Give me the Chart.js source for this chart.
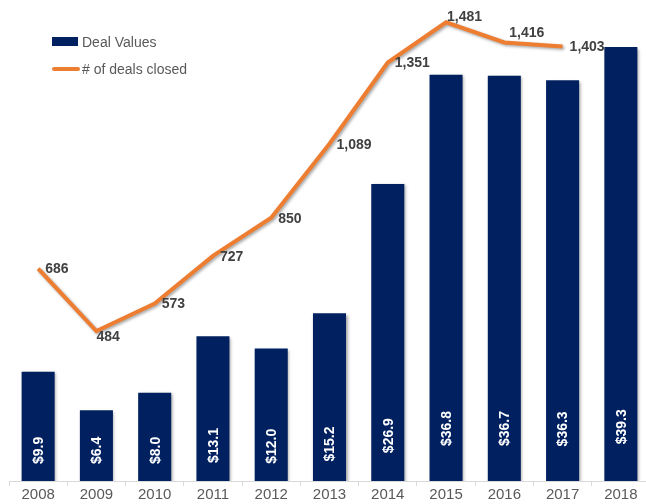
<!DOCTYPE html>
<html>
<head>
<meta charset="utf-8">
<script src="https://cdn.jsdelivr.net/npm/chart.js@4.4.1/dist/chart.umd.min.js"></script>
<style>
  html, body { margin: 0; padding: 0; background: #ffffff; overflow: hidden; }
  #wrap { position: relative; width: 650px; height: 504px; }
  #legend { position: absolute; left: 52px; top: 28px; font-family: "Liberation Sans", Arial, sans-serif; font-size: 14px; color: #595959; }
  .row { display: flex; align-items: center; height: 27px; }
  .box { width: 26px; height: 9px; background: #002060; margin-right: 4px; }
  .ln { width: 28px; height: 4px; background: #ED7D31; margin-right: 2px; border-radius: 2px; }
</style>
</head>
<body>
<div id="wrap">
  <canvas id="c" width="650" height="504"></canvas>
  <div id="legend">
    <div class="row"><div class="box"></div><span>Deal Values</span></div>
    <div class="row"><div class="ln"></div><span># of deals closed</span></div>
  </div>
</div>
<script>
const years = ["2008","2009","2010","2011","2012","2013","2014","2015","2016","2017","2018"];
const dealValues = [9.9, 6.4, 8.0, 13.1, 12.0, 15.2, 26.9, 36.8, 36.7, 36.3, 39.3];
const dealsClosed = [686, 484, 573, 727, 850, 1089, 1351, 1481, 1416, 1403];

// label placement tweaks (style only)
const lineLabelAdjust = { 1: [0, 6], 7: [1, -5], 8: [5, -9] };

const shadowPlugin = {
  id: 'shadows',
  beforeDatasetDraw(chart, args) {
    const ctx = chart.ctx;
    ctx.save();
    ctx.shadowColor = 'rgba(0,0,0,0.35)';
    ctx.shadowBlur = 3;
    ctx.shadowOffsetX = 1.5;
    ctx.shadowOffsetY = 1.5;
  },
  afterDatasetDraw(chart) { chart.ctx.restore(); }
};

const labelPlugin = {
  id: 'labels',
  afterDatasetsDraw(chart) {
    const ctx = chart.ctx;
    const yAxis = chart.scales.y;
    const base = yAxis.getPixelForValue(0);
    // bar labels
    const barMeta = chart.getDatasetMeta(0);
    ctx.save();
    ctx.fillStyle = '#ffffff';
    ctx.font = 'bold 14px "Liberation Sans", Arial, sans-serif';
    ctx.textAlign = 'left';
    ctx.textBaseline = 'middle';
    barMeta.data.forEach((el, i) => {
      const h = base - el.y;
      const off = 17 + Math.max(0, h - 130) * 0.065;
      ctx.save();
      ctx.translate(el.x, base - off);
      ctx.rotate(-Math.PI / 2);
      ctx.fillText('$' + dealValues[i].toFixed(1), 0, 1);
      ctx.restore();
    });
    ctx.restore();
    // line labels
    const lineMeta = chart.getDatasetMeta(1);
    ctx.save();
    ctx.fillStyle = '#404040';
    ctx.font = 'bold 14px "Liberation Sans", Arial, sans-serif';
    ctx.textAlign = 'left';
    ctx.textBaseline = 'middle';
    lineMeta.data.forEach((el, i) => {
      const adj = lineLabelAdjust[i] || [7, 1];
      ctx.fillText(dealsClosed[i].toLocaleString('en-US'), el.x + adj[0], el.y + adj[1]);
    });
    ctx.restore();
  }
};

new Chart(document.getElementById('c'), {
  data: {
    labels: years,
    datasets: [
      {
        type: 'bar',
        label: 'Deal Values',
        data: dealValues,
        backgroundColor: '#002060',
        barPercentage: 0.567,
        categoryPercentage: 1.0,
        yAxisID: 'y',
        order: 2
      },
      {
        type: 'line',
        label: '# of deals closed',
        data: dealsClosed,
        borderColor: '#ED7D31',
        borderWidth: 4,
        pointRadius: 0,
        tension: 0,
        fill: false,
        yAxisID: 'y2',
        order: 1
      }
    ]
  },
  options: {
    responsive: false,
    animation: false,
    layout: { padding: { left: 9, right: 0, top: 0, bottom: 0 } },
    plugins: { legend: { display: false }, tooltip: { enabled: false } },
    scales: {
      x: {
        offset: true,
        grid: { display: true, offset: true, drawOnChartArea: false, drawTicks: true, tickLength: 5, color: '#d9d9d9' },
        border: { display: true, color: '#d9d9d9' },
        ticks: { color: '#595959', font: { family: '"Liberation Sans", Arial, sans-serif', size: 15 }, padding: 0, maxRotation: 0, autoSkip: false }
      },
      y: { display: false, min: 0, max: 43.56 },
      y2: { display: false, min: 0, max: 1553 }
    }
  },
  plugins: [shadowPlugin, labelPlugin]
});
</script>
</body>
</html>
